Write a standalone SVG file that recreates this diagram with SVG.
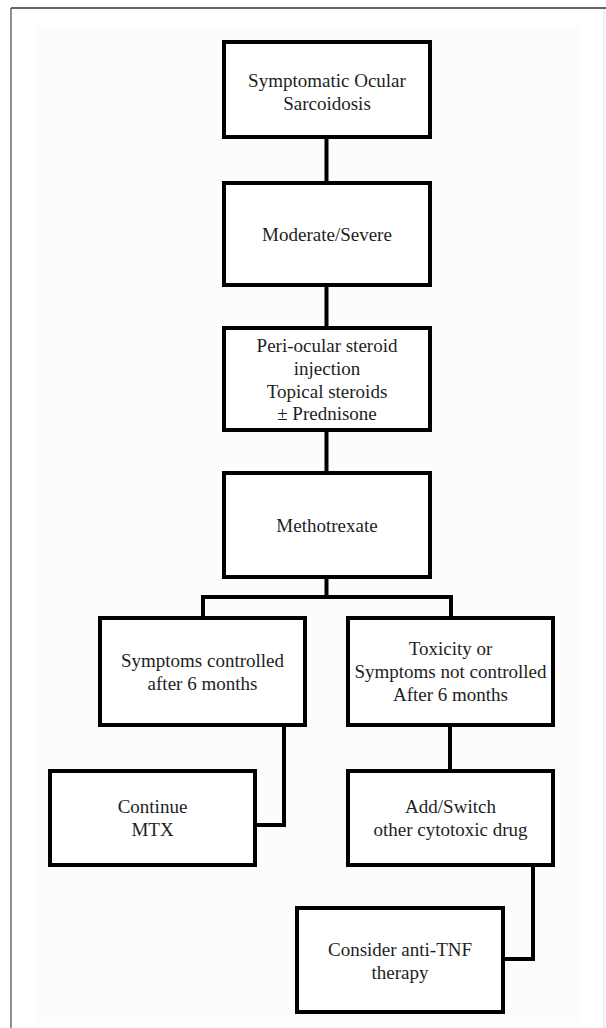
<svg xmlns="http://www.w3.org/2000/svg" width="606" height="1028" viewBox="0 0 606 1028">
<style>
.box{fill:#ffffff;stroke:#000000;stroke-width:4;stroke-linejoin:miter}
.lbl{font-family:"Liberation Serif","Times New Roman",serif;font-size:19px;fill:#1e1e1e;text-anchor:middle}
.con{fill:none;stroke:#000000;stroke-width:4;stroke-linejoin:miter}
</style>
<rect x="0" y="0" width="606" height="1028" fill="#ffffff"/>
<rect x="37" y="27" width="542" height="996" fill="#fcfcfc"/>
<g id="frame">
<line x1="11" y1="8" x2="606" y2="8" stroke="#333333" stroke-width="1.5"/>
<line x1="11" y1="8" x2="11" y2="1028" stroke="#444444" stroke-width="1.2"/>
<line x1="604" y1="9" x2="604" y2="1028" stroke="#dddddd" stroke-width="1"/>
</g>
<g id="connectors">
<path class="con" d="M326.5,137 V183"/>
<path class="con" d="M326.5,285 V328"/>
<path class="con" d="M326.5,430 V473"/>
<path class="con" d="M326.5,577 V597"/>
<path class="con" d="M203,618 V597 H451 V618"/>
<path class="con" d="M284,725 V825 H255"/>
<path class="con" d="M450,725 V771"/>
<path class="con" d="M533,865 V959 H503"/>
</g>
<g id="n1">
<rect class="box" x="224" y="42" width="206" height="95"/>
<text class="lbl" x="327" y="87">Symptomatic Ocular</text>
<text class="lbl" x="327" y="110">Sarcoidosis</text>
</g>
<g id="n2">
<rect class="box" x="224" y="183" width="206" height="102"/>
<text class="lbl" x="327" y="241">Moderate/Severe</text>
</g>
<g id="n3">
<rect class="box" x="224" y="328" width="206" height="102"/>
<text class="lbl" x="327" y="352">Peri-ocular steroid</text>
<text class="lbl" x="327" y="375">injection</text>
<text class="lbl" x="327" y="397.5">Topical steroids</text>
<text class="lbl" x="327" y="420">± Prednisone</text>
</g>
<g id="n4">
<rect class="box" x="224" y="473" width="206" height="104"/>
<text class="lbl" x="327" y="532">Methotrexate</text>
</g>
<g id="n5">
<rect class="box" x="100" y="618" width="205" height="107"/>
<text class="lbl" x="202.5" y="667">Symptoms controlled</text>
<text class="lbl" x="202.5" y="690">after 6 months</text>
</g>
<g id="n6">
<rect class="box" x="348" y="618" width="205" height="107"/>
<text class="lbl" x="450.5" y="655">Toxicity or</text>
<text class="lbl" x="450.5" y="678">Symptoms not controlled</text>
<text class="lbl" x="450.5" y="700.5">After 6 months</text>
</g>
<g id="n7">
<rect class="box" x="50" y="771" width="205" height="94"/>
<text class="lbl" x="152.5" y="813">Continue</text>
<text class="lbl" x="152.5" y="836">MTX</text>
</g>
<g id="n8">
<rect class="box" x="348" y="771" width="205" height="94"/>
<text class="lbl" x="450.5" y="813">Add/Switch</text>
<text class="lbl" x="450.5" y="836">other cytotoxic drug</text>
</g>
<g id="n9">
<rect class="box" x="297" y="908" width="206" height="104"/>
<text class="lbl" x="400" y="956">Consider anti-TNF</text>
<text class="lbl" x="400" y="979">therapy</text>
</g>
</svg>
